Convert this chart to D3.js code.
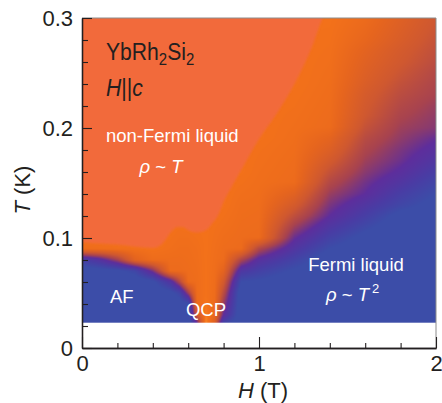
<!DOCTYPE html>
<html>
	<head>
		<meta charset="UTF-8">
		<title>YbRh2Si2 phase diagram</title>
		<script type="text/javascript" src="https://cdn.jsdelivr.net/npm/d3@7"></script>
		<style>
			body { margin: 0; background: #fff; }
			text { font-family: "Liberation Sans", Arial, sans-serif; }
		</style>
	</head>
	<body>
		<script>
			//grid columns: field H (T)
			var hCols = [0, 0.1, 0.2, 0.3, 0.4, 0.5, 0.55, 0.6, 0.65, 0.7, 0.75, 0.8, 0.9, 1.0, 1.2, 1.4, 1.6, 1.8, 2.0];

			//grid rows: temperature T (K), lowest measured point first
			var tRows = [0.023, 0.03, 0.04, 0.05, 0.06, 0.07, 0.08, 0.09, 0.10, 0.11, 0.12, 0.13, 0.14, 0.15,
				0.16, 0.17, 0.18, 0.19, 0.20, 0.21, 0.22, 0.23, 0.24, 0.25, 0.26, 0.27, 0.28, 0.29, 0.30];

			//resistivity exponent n (rho ~ T^n), one column per H value, bottom to top
			var nGrid = [
				[2, 2, 2, 2, 2, 1.98, 1.78, 1.09, 1.05, 1.05, 1.05, 1.05, 1.05, 1.05, 1.05, 1.05, 1.05, 1.05, 1.05, 1.05, 1.05, 1.05, 1.05, 1.05, 1.05, 1.05, 1.05, 1.05, 1.05],
				[2, 2, 2, 2, 2, 1.96, 1.66, 1.08, 1.05, 1.05, 1.05, 1.05, 1.05, 1.05, 1.05, 1.05, 1.05, 1.05, 1.05, 1.05, 1.05, 1.05, 1.05, 1.05, 1.05, 1.05, 1.05, 1.05, 1.05],
				[2, 2, 2, 2, 2, 1.93, 1.46, 1.07, 1.05, 1.05, 1.05, 1.05, 1.05, 1.05, 1.05, 1.05, 1.05, 1.05, 1.05, 1.05, 1.05, 1.05, 1.05, 1.05, 1.05, 1.05, 1.05, 1.05, 1.05],
				[2, 2, 2, 2, 2, 1.84, 1.17, 1.06, 1.05, 1.05, 1.05, 1.05, 1.05, 1.05, 1.05, 1.05, 1.05, 1.05, 1.05, 1.05, 1.05, 1.05, 1.05, 1.05, 1.05, 1.05, 1.05, 1.05, 1.05],
				[2, 2, 2, 2, 1.93, 1.54, 1.09, 1.05, 1.05, 1.05, 1.05, 1.05, 1.05, 1.05, 1.05, 1.05, 1.05, 1.05, 1.05, 1.05, 1.05, 1.05, 1.05, 1.05, 1.05, 1.05, 1.05, 1.05, 1.05],
				[2, 2, 2, 1.94, 1.68, 1.1, 1.09, 1.07, 1.06, 1.05, 1.05, 1.05, 1.05, 1.05, 1.05, 1.05, 1.05, 1.05, 1.05, 1.05, 1.05, 1.05, 1.05, 1.05, 1.05, 1.05, 1.05, 1.05, 1.05],
				[2, 2, 1.98, 1.83, 1.41, 1.1, 1.09, 1.08, 1.07, 1.06, 1.05, 1.05, 1.05, 1.05, 1.05, 1.05, 1.05, 1.05, 1.05, 1.05, 1.05, 1.05, 1.05, 1.05, 1.05, 1.05, 1.05, 1.05, 1.05],
				[2, 2, 1.92, 1.46, 1.1, 1.09, 1.085, 1.08, 1.07, 1.05, 1.05, 1.05, 1.05, 1.05, 1.05, 1.05, 1.05, 1.05, 1.05, 1.05, 1.05, 1.05, 1.05, 1.05, 1.05, 1.05, 1.05, 1.05, 1.05],
				[1.58, 1.29, 1.1, 1.09, 1.085, 1.08, 1.075, 1.07, 1.06, 1.05, 1.05, 1.05, 1.05, 1.05, 1.05, 1.05, 1.05, 1.05, 1.05, 1.05, 1.05, 1.05, 1.05, 1.05, 1.05, 1.05, 1.05, 1.05, 1.05],
				[1.0, 1.02, 1.04, 1.05, 1.05, 1.05, 1.05, 1.05, 1.05, 1.05, 1.05, 1.05, 1.05, 1.05, 1.05, 1.05, 1.05, 1.05, 1.05, 1.05, 1.05, 1.05, 1.05, 1.05, 1.05, 1.05, 1.05, 1.05, 1.05],
				[1.2, 1.12, 1.1, 1.09, 1.085, 1.08, 1.075, 1.07, 1.065, 1.06, 1.05, 1.05, 1.05, 1.05, 1.05, 1.05, 1.05, 1.05, 1.05, 1.05, 1.05, 1.05, 1.05, 1.05, 1.05, 1.05, 1.05, 1.05, 1.05],
				[1.81, 1.6, 1.49, 1.38, 1.27, 1.16, 1.096, 1.09, 1.08, 1.07, 1.06, 1.05, 1.05, 1.05, 1.05, 1.05, 1.05, 1.05, 1.05, 1.05, 1.05, 1.05, 1.05, 1.05, 1.05, 1.05, 1.05, 1.05, 1.05],
				[2, 2, 2, 2, 1.9, 1.7, 1.43, 1.1, 1.095, 1.09, 1.085, 1.08, 1.07, 1.06, 1.05, 1.05, 1.05, 1.05, 1.05, 1.05, 1.05, 1.05, 1.05, 1.05, 1.05, 1.05, 1.05, 1.05, 1.05],
				[2, 2, 2, 2, 1.92, 1.79, 1.64, 1.42, 1.1, 1.095, 1.09, 1.085, 1.08, 1.075, 1.07, 1.065, 1.06, 1.05, 1.05, 1.05, 1.05, 1.05, 1.05, 1.05, 1.05, 1.05, 1.05, 1.05, 1.05],
				[2, 2, 2, 2, 2, 1.92, 1.81, 1.69, 1.58, 1.47, 1.36, 1.26, 1.18, 1.1, 1.094, 1.089, 1.083, 1.078, 1.072, 1.067, 1.061, 1.056, 1.05, 1.05, 1.05, 1.05, 1.05, 1.05, 1.05],
				[2, 2, 2, 2, 2, 2, 2, 1.9, 1.8, 1.7, 1.6, 1.54, 1.48, 1.41, 1.34, 1.27, 1.21, 1.16, 1.1, 1.095, 1.09, 1.085, 1.08, 1.075, 1.07, 1.065, 1.06, 1.055, 1.05],
				[2, 2, 2, 2, 2, 2, 2, 2, 1.95, 1.86, 1.77, 1.69, 1.6, 1.56, 1.51, 1.47, 1.43, 1.39, 1.34, 1.3, 1.28, 1.26, 1.23, 1.21, 1.19, 1.17, 1.14, 1.12, 1.1],
				[2, 2, 2, 2, 2, 2, 2, 2, 2, 2, 1.95, 1.84, 1.77, 1.69, 1.62, 1.57, 1.54, 1.5, 1.47, 1.44, 1.41, 1.38, 1.35, 1.32, 1.29, 1.27, 1.24, 1.22, 1.2],
				[2, 2, 2, 2, 2, 2, 2, 2, 2, 2, 2, 1.95, 1.9, 1.84, 1.77, 1.7, 1.64, 1.59, 1.52, 1.5, 1.48, 1.45, 1.43, 1.41, 1.38, 1.36, 1.34, 1.32, 1.3]
			];

			//colour map for the exponent
			var nStops = [1.0, 1.05, 1.15, 1.3, 1.45, 1.6, 1.75, 1.9];
			var nColours = ["#F6842A", "#F3711A", "#E6651E", "#CF5830", "#A8434F", "#5E2E9C", "#4A3CA4", "#3C4DA8"];

			//upper edge of the plain non-Fermi-liquid region (n < 1)
			var salmonH = [0, 0.1, 0.2, 0.3, 0.4, 0.44, 0.47, 0.5, 0.54, 0.57, 0.6, 0.65, 0.7, 0.74, 0.77, 0.8, 0.82, 0.9, 1.0, 1.1, 1.2, 1.3, 1.36, 1.4];
			var salmonT = [0.096, 0.095, 0.094, 0.092, 0.091, 0.093, 0.098, 0.105, 0.110, 0.110, 0.107, 0.105, 0.107, 0.114, 0.121, 0.133, 0.139, 0.162, 0.19, 0.213, 0.24, 0.274, 0.30, 0.31];

			//axes
			var xTicks = [0, 1, 2];
			var xTickLabels = ["0", "1", "2"];
			var xMinor = [0.2, 0.4, 0.6, 0.8, 1.2, 1.4, 1.6, 1.8];
			var yTicks = [0, 0.1, 0.2, 0.3];
			var yTickLabels = ["0", "0.1", "0.2", "0.3"];
			var yMinor = [0.02, 0.04, 0.06, 0.08, 0.12, 0.14, 0.16, 0.18, 0.22, 0.24, 0.26, 0.28];

			var w = 442;
			var h = 403;
			var ink = "#231F20";

			var x = d3.scaleLinear().domain([0, 2]).range([82, 436]);
			var y = d3.scaleLinear().domain([0, 0.3]).range([348, 18]);

			var colour = d3.scaleLinear().domain(nStops).range(nColours).clamp(true);

			var svg = d3.select("body")
				.append("svg")
				.attr("width", w)
				.attr("height", h);

			//paint the exponent field into a canvas, piecewise linear between grid points
			var colScales = nGrid.map(function(col) {
				return d3.scaleLinear().domain(tRows).range(col).clamp(true);
			});

			var px0 = x(0), px1 = x(2);
			var py0 = y(0.3), py1 = y(tRows[0]);
			var cw = Math.ceil(px1 - px0);
			var ch = Math.ceil(py1 - py0);
			var canvas = document.createElement("canvas");
			canvas.width = cw;
			canvas.height = ch;
			var ctx = canvas.getContext("2d");
			var img = ctx.createImageData(cw, ch);
			for (var j = 0; j < ch; j++) {
				var T = y.invert(py0 + j + 0.5);
				var rowScale = d3.scaleLinear()
					.domain(hCols)
					.range(colScales.map(function(s) { return s(T); }))
					.clamp(true);
				for (var i = 0; i < cw; i++) {
					var c = d3.rgb(colour(rowScale(x.invert(px0 + i + 0.5))));
					var k = (j * cw + i) * 4;
					img.data[k] = c.r;
					img.data[k + 1] = c.g;
					img.data[k + 2] = c.b;
					img.data[k + 3] = 255;
				}
			}
			ctx.putImageData(img, 0, 0);

			var defs = svg.append("defs");
			defs.append("clipPath")
				.attr("id", "plotClip")
				.append("rect")
				.attr("x", px0)
				.attr("y", py0)
				.attr("width", px1 - px0)
				.attr("height", py1 - py0);
			defs.append("filter")
				.attr("id", "soft")
				.attr("x", "-5%").attr("y", "-5%")
				.attr("width", "110%").attr("height", "110%")
				.append("feGaussianBlur")
				.attr("stdDeviation", 1.3);

			svg.append("image")
				.attr("x", px0)
				.attr("y", py0)
				.attr("width", px1 - px0)
				.attr("height", py1 - py0)
				.attr("preserveAspectRatio", "none")
				.attr("href", canvas.toDataURL());

			//flat n < 1 region on top
			var edge = [[-0.1, salmonT[0]]].concat(d3.zip(salmonH, salmonT));
			var area = d3.area()
				.x(function(d) { return x(d[0]); })
				.y0(y(0.34))
				.y1(function(d) { return y(d[1]); })
				.curve(d3.curveMonotoneX);
			svg.append("g")
				.attr("clip-path", "url(#plotClip)")
				.append("path")
				.datum(edge)
				.attr("d", area)
				.attr("fill", "#F26B3A")
				.attr("filter", "url(#soft)");

			//frame, top and right in grey
			svg.append("path")
				.attr("d", "M" + x(0) + "," + y(0.3) + "H" + x(2) + "V" + y(0))
				.attr("fill", "none")
				.attr("stroke", "#8C8C8C")
				.attr("stroke-width", 1);

			//axes, ticks point inwards
			function styleAxis(g) {
				g.select(".domain").attr("stroke", ink).attr("stroke-width", 1.3);
				g.selectAll(".tick line").attr("stroke", ink).attr("stroke-width", 1.1);
				g.selectAll(".tick text")
					.attr("fill", ink)
					.attr("font-size", "22px")
					.attr("font-family", "'Liberation Sans', Arial, sans-serif");
			}

			svg.append("g")
				.attr("transform", "translate(" + x(0) + ",0)")
				.call(d3.axisLeft(y).tickValues(yMinor).tickSize(-6).tickSizeOuter(0).tickFormat(""))
				.call(styleAxis);
			svg.append("g")
				.attr("transform", "translate(" + x(0) + ",0)")
				.call(d3.axisLeft(y).tickValues(yTicks).tickSize(-10).tickSizeOuter(0).tickPadding(9)
					.tickFormat(function(d, i) { return yTickLabels[i]; }))
				.call(styleAxis);

			svg.append("g")
				.attr("transform", "translate(0," + y(0) + ")")
				.call(d3.axisBottom(x).tickValues(xMinor).tickSize(-5).tickSizeOuter(0).tickFormat(""))
				.call(styleAxis);
			svg.append("g")
				.attr("transform", "translate(0," + y(0) + ")")
				.call(d3.axisBottom(x).tickValues(xTicks).tickSize(-11).tickSizeOuter(0).tickPadding(7)
					.tickFormat(function(d, i) { return xTickLabels[i]; }))
				.call(styleAxis);

			//axis titles
			var xTitle = svg.append("text")
				.attr("x", 263)
				.attr("y", 398)
				.attr("text-anchor", "middle")
				.attr("font-size", "22px")
				.attr("fill", ink);
			xTitle.append("tspan").attr("font-style", "italic").text("H");
			xTitle.append("tspan").text(" (T)");

			var yTitle = svg.append("text")
				.attr("transform", "translate(30,190) rotate(-90)")
				.attr("text-anchor", "middle")
				.attr("font-size", "22px")
				.attr("fill", ink);
			yTitle.append("tspan").attr("font-style", "italic").text("T");
			yTitle.append("tspan").text(" (K)");

			//compound and field direction
			var comp = svg.append("text")
				.attr("transform", "translate(106,60) scale(0.88,1)")
				.attr("font-size", "24px")
				.attr("fill", ink);
			comp.append("tspan").text("YbRh");
			comp.append("tspan").attr("font-size", "17px").attr("dy", 5).text("2");
			comp.append("tspan").attr("dy", -5).text("Si");
			comp.append("tspan").attr("font-size", "17px").attr("dy", 5).text("2");

			var dir = svg.append("text")
				.attr("transform", "translate(106,96) scale(0.88,1)")
				.attr("font-size", "24px")
				.attr("fill", ink);
			dir.append("tspan").attr("font-style", "italic").text("H");
			dir.append("tspan").text("||");
			dir.append("tspan").attr("font-style", "italic").text("c");

			//region labels
			function label(tx, ty, anchor) {
				return svg.append("text")
					.attr("x", tx)
					.attr("y", ty)
					.attr("text-anchor", anchor)
					.attr("font-size", "18.5px")
					.attr("fill", "#fff");
			}

			label(106, 142, "start").text("non-Fermi liquid");
			var nfl = label(161, 173, "middle");
			nfl.append("tspan").attr("font-style", "italic").text("\u03C1");
			nfl.append("tspan").text(" ~ ");
			nfl.append("tspan").attr("font-style", "italic").text("T");

			label(110, 303, "start").text("AF");
			label(206, 316, "middle").text("QCP");

			label(356, 271, "middle").text("Fermi liquid");
			var fl = label(326, 301, "start");
			fl.append("tspan").attr("font-style", "italic").text("\u03C1");
			fl.append("tspan").text(" ~ ");
			fl.append("tspan").attr("font-style", "italic").text("T");
			fl.append("tspan").attr("font-size", "13px").attr("dx", 3).attr("dy", -8).text("2");
		</script>
	</body>
</html>
